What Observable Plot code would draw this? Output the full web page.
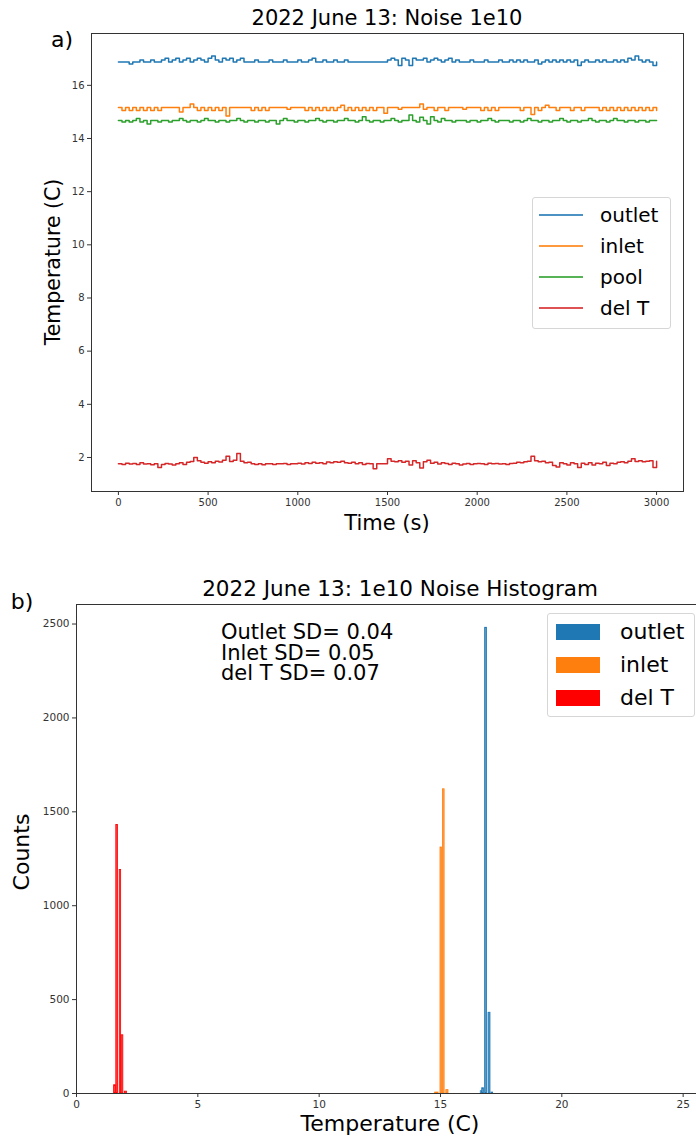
<!DOCTYPE html>
<html>
<head>
<meta charset="utf-8">
<script src="https://cdn.jsdelivr.net/npm/d3@7"></script>
<script src="https://cdn.jsdelivr.net/npm/@observablehq/plot@0.6"></script>
<style>
  html, body { margin: 0; padding: 0; background: #fff; }
  #wrap { position: relative; width: 696px; height: 1140px; overflow: hidden; font-family: "DejaVu Sans", sans-serif; color: #000; }
  #wrap svg { position: absolute; left: 0; }
  .t { position: absolute; white-space: nowrap; line-height: 1; }
  .c { transform: translate(-50%, -50%); }
  .vc { transform: translate(-50%, -50%) rotate(-90deg); }
  .lg { position: absolute; border: 1px solid #d6d6d6; border-radius: 3px; background: rgba(255,255,255,0.8); }
  .row { position: absolute; left: 0; display: flex; align-items: center; transform: translateY(-50%); }
</style>
</head>
<body>
<div id="wrap"></div>
<script>
// ---------- Panel a: time series (one sample every 20 s) ----------
const timeStep = 20;
const seriesNames = ["outlet", "inlet", "pool", "del T"];
const lineColors = ["#1f77b4", "#ff7f0e", "#2ca02c", "#d62728"];

const outlet = [
16.88,16.88,16.88,16.80,16.88,16.88,16.95,16.88,16.88,16.95,
16.88,16.88,16.95,17.02,16.88,16.95,17.02,16.88,16.95,17.02,
16.88,16.95,17.02,16.95,16.88,17.02,17.10,16.95,16.88,17.02,
16.95,17.02,16.88,16.95,17.02,16.88,16.88,16.88,16.95,16.88,
16.88,16.88,16.95,16.88,16.88,16.88,16.95,16.88,16.88,16.88,
16.95,16.88,16.88,16.95,17.02,16.88,16.88,16.95,16.88,16.88,
16.95,16.88,16.88,16.95,16.88,16.88,16.88,16.88,16.88,16.88,
16.88,16.88,16.88,16.88,16.88,16.95,17.02,16.95,16.75,17.02,
16.95,16.75,17.02,16.95,16.95,17.02,16.88,16.95,17.02,16.95,
16.88,16.95,17.02,16.88,16.95,16.88,16.88,16.88,16.95,16.88,
16.88,16.88,16.95,16.88,16.88,16.88,16.95,16.88,16.88,16.95,
16.88,16.95,16.88,16.95,16.88,16.88,16.95,16.80,16.88,16.95,
16.88,16.95,16.88,16.95,16.88,16.95,16.88,16.95,16.75,16.88,
16.95,16.88,16.88,16.95,16.88,16.95,16.88,16.88,16.95,16.88,
16.95,16.88,17.02,16.95,17.10,16.95,16.88,16.95,16.88,16.75,16.88];

const inlet = [
15.17,15.05,15.17,15.05,15.17,15.05,15.17,15.05,15.17,15.05,
15.17,15.05,15.17,15.17,15.17,15.17,15.17,15.00,15.17,15.17,
15.30,15.17,15.05,15.17,15.05,15.17,15.05,15.17,15.05,15.17,
14.85,15.17,15.17,15.17,15.17,15.17,15.17,15.05,15.17,15.05,
15.17,15.05,15.17,15.17,15.17,15.17,15.17,15.10,15.17,15.17,
15.17,15.17,15.05,15.17,15.05,15.17,15.05,15.17,15.05,15.17,
15.05,15.17,15.25,15.05,15.17,15.05,15.17,15.05,15.17,15.05,
15.17,15.05,15.17,15.17,14.95,15.17,15.17,15.17,15.10,15.17,
15.17,15.17,15.17,15.17,15.30,15.10,15.17,15.17,15.05,15.17,
15.17,15.05,15.17,15.17,15.17,15.17,15.10,15.17,15.17,15.17,
15.17,15.05,15.17,15.05,15.17,15.05,15.17,15.17,15.17,15.17,
15.17,15.17,15.05,15.17,15.17,14.90,15.17,15.05,15.17,15.25,
15.17,15.17,15.05,15.17,15.17,15.17,15.05,15.17,15.17,15.05,
15.17,15.17,15.17,15.17,15.05,15.17,15.05,15.17,15.05,15.17,
15.05,15.17,15.05,15.17,15.05,15.17,15.05,15.17,15.05,15.17,15.05];

const pool = [
14.68,14.62,14.68,14.62,14.68,14.75,14.62,14.68,14.55,14.68,
14.68,14.62,14.68,14.68,14.62,14.68,14.68,14.75,14.68,14.62,
14.68,14.68,14.62,14.68,14.75,14.68,14.68,14.62,14.68,14.68,
14.62,14.68,14.68,14.75,14.68,14.62,14.68,14.68,14.62,14.68,
14.68,14.62,14.68,14.68,14.55,14.68,14.75,14.68,14.68,14.62,
14.68,14.68,14.62,14.68,14.68,14.75,14.68,14.62,14.68,14.68,
14.62,14.68,14.68,14.75,14.68,14.68,14.62,14.68,14.82,14.68,
14.62,14.68,14.68,14.62,14.68,14.68,14.75,14.68,14.62,14.68,
14.68,14.88,14.68,14.62,14.80,14.68,14.55,14.82,14.68,14.62,
14.75,14.68,14.68,14.62,14.68,14.68,14.68,14.62,14.68,14.68,
14.62,14.68,14.68,14.75,14.68,14.62,14.68,14.68,14.68,14.62,
14.68,14.68,14.62,14.68,14.75,14.68,14.68,14.62,14.68,14.68,
14.62,14.68,14.68,14.75,14.68,14.62,14.68,14.68,14.62,14.68,
14.68,14.75,14.68,14.62,14.68,14.68,14.62,14.68,14.75,14.68,
14.68,14.62,14.68,14.68,14.62,14.68,14.68,14.62,14.68,14.68,14.68];

const delT = [
1.76,1.74,1.78,1.75,1.77,1.74,1.80,1.75,1.76,1.73,
1.76,1.62,1.74,1.77,1.75,1.72,1.76,1.80,1.74,1.82,
1.85,2.00,1.88,1.82,1.78,1.84,1.80,1.86,1.83,1.90,
2.05,1.85,1.90,2.15,1.86,1.80,1.82,1.76,1.74,1.76,
1.73,1.76,1.76,1.74,1.76,1.76,1.77,1.74,1.76,1.76,
1.78,1.75,1.80,1.77,1.82,1.78,1.80,1.76,1.83,1.80,
1.84,1.82,1.86,1.80,1.78,1.82,1.76,1.80,1.74,1.77,
1.76,1.58,1.76,1.76,1.76,1.95,1.86,1.84,1.88,1.82,
1.86,1.72,1.88,1.80,1.60,1.84,1.90,1.78,1.82,1.75,
1.80,1.77,1.74,1.78,1.76,1.72,1.75,1.77,1.74,1.76,
1.77,1.76,1.74,1.78,1.76,1.77,1.75,1.76,1.74,1.77,
1.78,1.82,1.80,1.84,1.86,2.05,1.88,1.84,1.86,1.80,
1.82,1.70,1.64,1.80,1.76,1.72,1.80,1.76,1.62,1.78,
1.74,1.80,1.72,1.78,1.76,1.82,1.70,1.78,1.76,1.82,
1.84,1.80,1.86,1.95,1.85,1.88,1.84,1.86,1.88,1.62,1.86];

const timeTicks = [0, 500, 1000, 1500, 2000, 2500, 3000];
const tempTicks = [2, 4, 6, 8, 10, 12, 14, 16];

// ---------- Panel b: histogram bins ----------
const histNames = ["outlet", "inlet", "del T"];
const histColors = ["#1f77b4", "#ff7f0e", "#ff0000"];
const outletBinLo = [16.66, 16.72, 16.84, 16.98, 17.10];
const outletBinHi = [16.71, 16.79, 16.92, 17.06, 17.17];
const outletCounts = [12, 28, 2480, 430, 5];
const inletBinLo = [14.78, 15.00, 15.10, 15.24];
const inletBinHi = [14.92, 15.06, 15.17, 15.33];
const inletCounts = [5, 1310, 1620, 18];
const delTBinLo = [1.55, 1.64, 1.78, 1.85, 1.99];
const delTBinHi = [1.62, 1.71, 1.84, 1.93, 2.08];
const delTCounts = [44, 1430, 1190, 310, 10];
const countTicks = [0, 500, 1000, 1500, 2000, 2500];
const histTempTicks = [0, 5, 10, 15, 20, 25];
const sdLines = ["Outlet SD= 0.04", "Inlet SD= 0.05", "del T SD= 0.07"];

// ---------- build ----------
const wrap = document.getElementById("wrap");
const seriesValues = [outlet, inlet, pool, delT];
const lineRows = seriesNames.flatMap((name, k) =>
  seriesValues[k].map((v, i) => ({series: name, t: i * timeStep, v})));

const axisStyle = {fontFamily: "DejaVu Sans, sans-serif", color: "#333", background: "transparent", overflow: "visible"};
const plain = d3.format("d");

const plotA = Plot.plot({
  width: 696, height: 540,
  marginTop: 33, marginBottom: 49, marginLeft: 91, marginRight: 13,
  style: {...axisStyle, fontSize: "10px"},
  x: {domain: [-150, 3150], ticks: timeTicks, tickFormat: plain, tickSize: 4, tickPadding: 3, label: null},
  y: {domain: [0.72, 17.95], ticks: tempTicks, tickFormat: plain, tickSize: 4, tickPadding: 3, label: null},
  color: {domain: seriesNames, range: lineColors},
  marks: [
    Plot.line(lineRows, {x: "t", y: "v", z: "series", stroke: "series", strokeWidth: 1.5, curve: "step-after"}),
    Plot.frame({stroke: "#333", strokeWidth: 1})
  ]
});
plotA.style.top = "0px";
wrap.appendChild(plotA);

const histRows = [];
const binSets = [[outletBinLo, outletBinHi, outletCounts], [inletBinLo, inletBinHi, inletCounts], [delTBinLo, delTBinHi, delTCounts]];
histNames.forEach((name, k) => {
  const [lo, hi, cnt] = binSets[k];
  cnt.forEach((c, i) => histRows.push({series: name, x1: lo[i], x2: hi[i], count: c}));
});

const yTop = 2604;
const plotB = Plot.plot({
  width: 696, height: 580,
  marginTop: 44, marginBottom: 47, marginLeft: 76, marginRight: 0,
  style: {...axisStyle, fontSize: "10.5px"},
  x: {domain: [0, 25.55], ticks: histTempTicks, tickFormat: plain, tickSize: 4, tickPadding: 3, label: null},
  y: {domain: [0, yTop], ticks: countTicks, tickFormat: plain, tickSize: 4, tickPadding: 3, label: null},
  color: {domain: histNames, range: histColors},
  marks: [
    Plot.rectY(histRows, {x1: "x1", x2: "x2", y1: 0, y2: "count", fill: "series", fillOpacity: 0.75, stroke: "series", strokeWidth: 0.8}),
    Plot.ruleX([0], {stroke: "#333"}),
    Plot.ruleY([0, yTop], {stroke: "#333"})
  ]
});
plotB.style.top = "560px";
wrap.appendChild(plotB);

function addText(txt, x, y, size, cls, extra) {
  const d = document.createElement("div");
  d.className = "t " + (cls || "");
  d.textContent = txt;
  d.style.left = x + "px";
  d.style.top = y + "px";
  d.style.fontSize = size + "px";
  if (extra) Object.assign(d.style, extra);
  wrap.appendChild(d);
  return d;
}

// panel a texts
addText("2022 June 13: Noise 1e10", 387, 18, 21, "c");
addText("a)", 62, 40, 22, "c");
addText("Temperature (C)", 53, 262, 20.5, "vc");
addText("Time (s)", 387, 523, 21, "c");

// panel a legend
const lgA = document.createElement("div");
lgA.className = "lg";
Object.assign(lgA.style, {left: "532px", top: "197px", width: "137px", height: "130px"});
wrap.appendChild(lgA);
seriesNames.forEach((name, i) => {
  const r = document.createElement("div");
  r.className = "row";
  r.style.top = (17 + i * 31) + "px";
  r.innerHTML = `<span style="display:inline-block;width:44px;height:2px;background:${lineColors[i]};opacity:0.8;margin-left:6px"></span><span style="margin-left:17px;font-size:20px;line-height:1">${name}</span>`;
  lgA.appendChild(r);
});

// panel b texts
addText("2022 June 13: 1e10 Noise Histogram", 400, 589, 21.5, "c");
addText("b)", 22, 602, 22, "c");
addText("Counts", 22, 852, 22, "vc");
addText("Temperature (C)", 390, 1124, 22, "c");
// SD annotation: one text block of three lines
const sd = addText("", 221, 622, 21, "", {whiteSpace: "pre", lineHeight: "20.5px"});
sd.textContent = sdLines.join("\n");

// panel b legend
const lgB = document.createElement("div");
lgB.className = "lg";
Object.assign(lgB.style, {left: "547px", top: "613px", width: "146px", height: "102px"});
wrap.appendChild(lgB);
histNames.forEach((name, i) => {
  const r = document.createElement("div");
  r.className = "row";
  r.style.top = (18 + i * 33) + "px";
  r.innerHTML = `<span style="display:inline-block;width:44px;height:16px;background:${histColors[i]};margin-left:8px"></span><span style="margin-left:20px;font-size:22px;line-height:1">${name}</span>`;
  lgB.appendChild(r);
});
</script>
</body>
</html>
